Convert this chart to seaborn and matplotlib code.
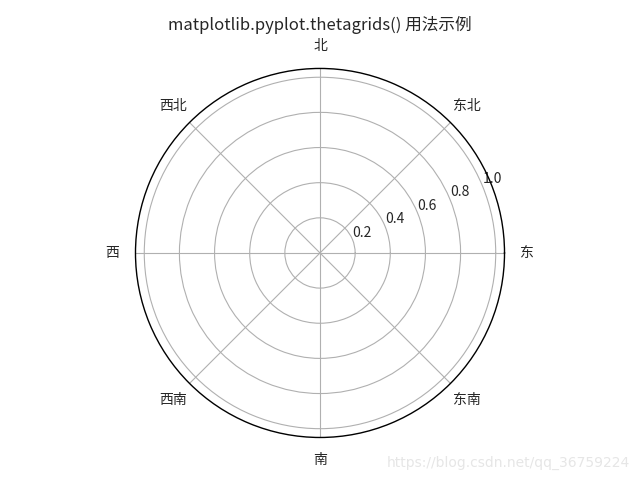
import numpy as np
import matplotlib
matplotlib.use("Agg")
import matplotlib.pyplot as plt
import seaborn as sns

# ================= 数据 =================
THETA_DEG = [0, 45, 90, 135, 180, 225, 270, 315]
THETA_LABELS = ['东', '东北', '北', '西北', '西', '西南', '南', '东南']
R_TICKS = [0.2, 0.4, 0.6, 0.8, 1.0]
R_MAX = 1.05
TITLE = 'matplotlib.pyplot.thetagrids() 用法示例'
WATERMARK = 'https://blog.csdn.net/qq_36759224'
# =======================================

sns.set_theme(style="white", rc={
    "axes.grid": True,
    "grid.color": "#b0b0b0",
    "grid.linewidth": 0.8,
    "axes.edgecolor": "black",
    "axes.linewidth": 1.0,
    "font.size": 10,
    "xtick.labelsize": 10,
    "ytick.labelsize": 10,
    "axes.titlesize": 12,
})
plt.rcParams['font.family'] = ['Noto Sans CJK SC', 'DejaVu Sans']
plt.rcParams['axes.unicode_minus'] = False

fig = plt.figure(figsize=(6.4, 4.8), dpi=100)
ax = fig.add_axes([0.2117, 0.0885, 0.5766, 0.769], projection='polar')

ax.set_rmax(R_MAX)
ax.set_rticks(R_TICKS)
ax.set_yticklabels([f'{r:.1f}' for r in R_TICKS])
plt.thetagrids(THETA_DEG, THETA_LABELS)
ax.set_title(TITLE)

fig.text(0.985, 0.02, WATERMARK, ha='right', va='bottom',
         fontsize=10, color='#e6e6e6', family=['DejaVu Sans'])

plt.savefig('out.png', dpi=100)
